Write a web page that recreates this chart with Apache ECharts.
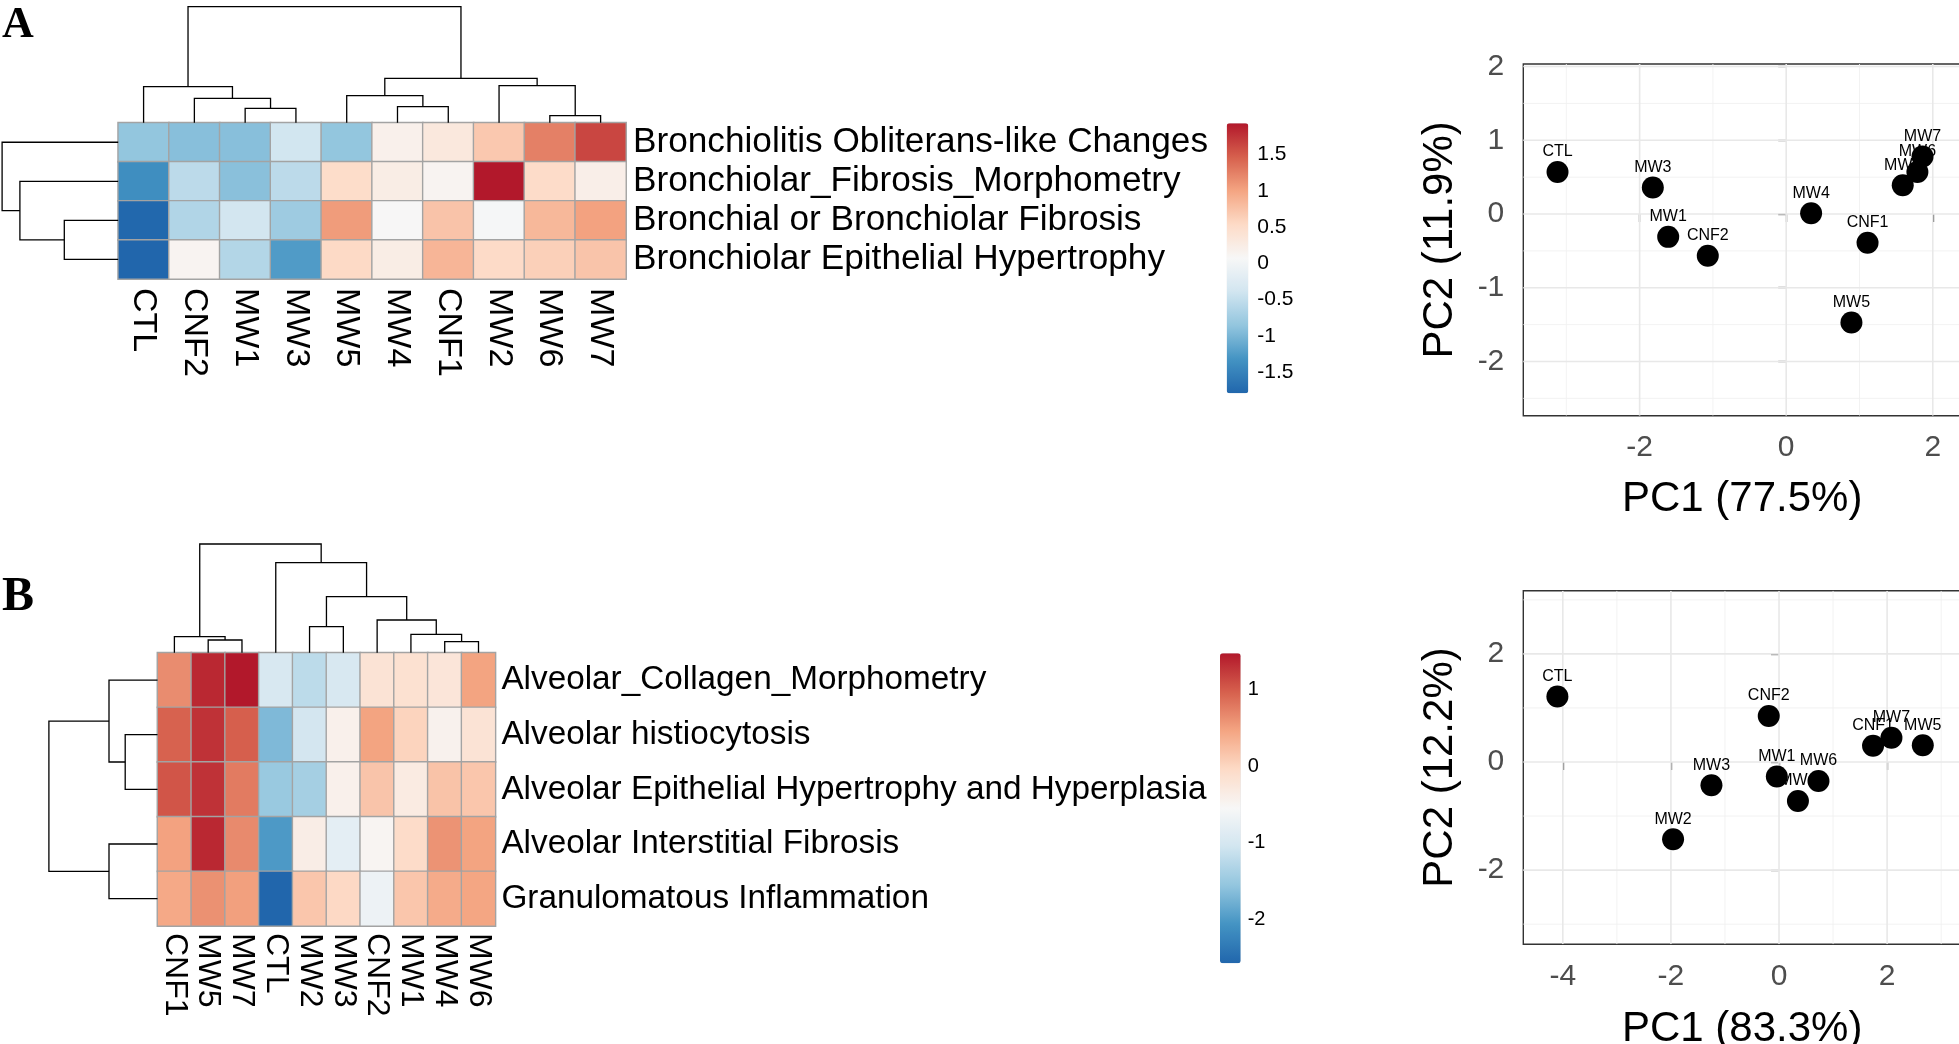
<!DOCTYPE html>
<html><head><meta charset="utf-8">
<script src="https://cdn.jsdelivr.net/npm/echarts@6/dist/echarts.min.js"></script>
<style>html,body{margin:0;padding:0;background:#fff;} #chart{width:1959px;height:1044px;}</style>
</head><body><div id="chart"></div>
<script>
const FONT = '"Liberation Sans", Arial, Helvetica, sans-serif';

// ---------------- Panel A heatmap data ----------------
const colsA = ['CTL','CNF2','MW1','MW3','MW5','MW4','CNF1','MW2','MW6','MW7'];
const rowsA = ['Bronchiolitis Obliterans-like Changes','Bronchiolar_Fibrosis_Morphometry','Bronchial or Bronchiolar Fibrosis','Bronchiolar Epithelial Hypertrophy'];
const a_bronchiolitis = [-0.85,-0.92,-0.92,-0.38,-0.85,0.19,0.32,0.70,1.25,1.63];
const a_fibMorph      = [-1.38,-0.55,-0.91,-0.55,0.51,0.24,0.13,1.93,0.52,0.22];
const a_bronchialFib  = [-1.77,-0.63,-0.37,-0.77,1.06,0.08,0.74,0.04,0.84,1.02];
const a_epiHyper      = [-1.79,0.13,-0.62,-1.25,0.54,0.24,0.86,0.53,0.63,0.73];
// dendrogram merges: [left, right, height]; strings = leaves, numbers = earlier merge (1-based)
const colMergesA = [['MW1','MW3',14.4],['CNF2',1,24.4],['CTL',2,36],['MW6','MW7',7],['MW4','CNF1',16],['MW5',5,27],['MW2',4,37],[6,7,44.4],[3,8,116]];
const rowMergesA = [['Bronchial or Bronchiolar Fibrosis','Bronchiolar Epithelial Hypertrophy',53.9],['Bronchiolar_Fibrosis_Morphometry',1,98.3],['Bronchiolitis Obliterans-like Changes',2,116.1]];
const cbTicksA = [-1.5,-1,-0.5,0,0.5,1,1.5];

// ---------------- Panel B heatmap data ----------------
const colsB = ['CNF1','MW5','MW7','CTL','MW2','MW3','CNF2','MW1','MW4','MW6'];
const rowsB = ['Alveolar_Collagen_Morphometry','Alveolar histiocytosis','Alveolar Epithelial Hypertrophy and Hyperplasia','Alveolar Interstitial Fibrosis','Granulomatous Inflammation'];
const b_collagen     = [0.64,1.36,1.47,-0.96,-1.22,-0.96,-0.19,-0.15,-0.23,0.47];
const b_histio       = [0.95,1.29,0.97,-1.68,-1.02,-0.42,0.47,0.02,-0.44,-0.19];
const b_epithelial   = [1.04,1.29,0.77,-1.50,-1.41,-0.42,0.17,-0.33,0.18,0.15];
const b_interstitial = [0.48,1.36,0.66,-2.00,-0.37,-0.80,-0.50,-0.07,0.59,0.47];
const b_granuloma    = [0.42,0.61,0.50,-2.57,0.15,-0.03,-0.68,0.15,0.40,0.45];
const colMergesB = [['MW5','MW7',12.7],['CNF1',1,16],['MW4','MW6',11],['MW1',3,18.4],['MW2','MW3',26],['CNF2',4,32.7],[5,6,56],['CTL',7,90],[2,8,108.7]];
const rowMergesB = [['Alveolar histiocytosis','Alveolar Epithelial Hypertrophy and Hyperplasia',32.3],['Alveolar_Collagen_Morphometry',1,48.5],['Alveolar Interstitial Fibrosis','Granulomatous Inflammation',48.5],[2,3,108.6]];
const cbTicksB = [-2,-1,0,1];

// ---------------- PCA data ----------------
const pcaA_names = ['CTL','MW3','MW1','CNF2','MW4','CNF1','MW5','MW2','MW6','MW7'];
const pcaA_pc1   = [-3.12,-1.82,-1.61,-1.07,0.34,1.11,0.89,1.59,1.79,1.86];
const pcaA_pc2   = [0.57,0.36,-0.31,-0.565,0.01,-0.39,-1.47,0.39,0.57,0.78];
const pcaA_xTicks = [-2,0,2], pcaA_xMinor = [-3,-1,1];
const pcaA_yTicks = [-2,-1,0,1,2], pcaA_yMinor = [-2.5,-1.5,-0.5,0.5,1.5];

const pcaB_names = ['CTL','CNF2','MW3','MW2','MW1','MW4','MW6','CNF1','MW7','MW5'];
const pcaB_pc1   = [-4.10,-0.19,-1.25,-1.96,-0.04,0.35,0.73,1.74,2.08,2.66];
const pcaB_pc2   = [1.21,0.85,-0.43,-1.43,-0.27,-0.72,-0.35,0.30,0.45,0.31];
const pcaB_xTicks = [-4,-2,0,2], pcaB_xMinor = [-3,-1,1,3];
const pcaB_yTicks = [-2,0,2], pcaB_yMinor = [-3,-1,1,3];

// ---------------- helpers ----------------
const RDBU = ['#2166AC','#4393C3','#92C5DE','#D1E5F0','#F7F7F7','#FDDBC7','#F4A582','#D6604D','#B2182B'];
function heatData(rows){ const d=[]; rows.forEach((row,r)=>row.forEach((v,c)=>d.push([c,r,v]))); return d; }
function dendro(order, merges){
  const pos=[], hgt=[], out=[];
  merges.forEach(m=>{
    const get = ref => typeof ref==='string' ? [order.indexOf(ref)+0.5, 0] : [pos[ref-1], hgt[ref-1]];
    const a=get(m[0]), b=get(m[1]);
    out.push([a[0], b[0], a[1], b[1], m[2]]);
    pos.push((a[0]+b[0])/2); hgt.push(m[2]);
  });
  return out;
}
const rootH = merges => merges[merges.length-1][2];
function dendroSeries(order, merges, xi, horizontal){
  return {type:'custom', coordinateSystem:'cartesian2d', xAxisIndex:xi, yAxisIndex:xi, silent:true, clip:false,
    data: dendro(order, merges),
    renderItem(params, api){
      const xa=api.value(0), xb=api.value(1), ha=api.value(2), hb=api.value(3), ht=api.value(4);
      const raw = horizontal ? [[ha,xa],[ht,xa],[ht,xb],[hb,xb]] : [[xa,ha],[xa,ht],[xb,ht],[xb,hb]];
      return {type:'polyline', shape:{points: raw.map(p=>api.coord(p))}, style:{stroke:'#000', lineWidth:1.3, fill:'none'}};
    }};
}
function gridLineSeries(idx, vals, vertical, color, width){
  return {type:'custom', coordinateSystem:'cartesian2d', xAxisIndex:idx, yAxisIndex:idx, silent:true, z:1, clip:true,
    data: vals.map(v=>[v,v]),
    renderItem(params, api){
      const cs = params.coordSys;
      if (vertical){ const x = api.coord([api.value(0), 0])[0];
        return {type:'line', shape:{x1:x,y1:cs.y,x2:x,y2:cs.y+cs.height}, style:{stroke:color,lineWidth:width}}; }
      const y = api.coord([0, api.value(1)])[1];
      return {type:'line', shape:{x1:cs.x,y1:y,x2:cs.x+cs.width,y2:y}, style:{stroke:color,lineWidth:width}};
    }};
}
const allA = [].concat(a_bronchiolitis,a_fibMorph,a_bronchialFib,a_epiHyper);
const allB = [].concat(b_collagen,b_histio,b_epithelial,b_interstitial,b_granuloma);
const minA=Math.min(...allA), maxA=Math.max(...allA), minB=Math.min(...allB), maxB=Math.max(...allB);

// ---------------- layout (pixels) ----------------
const G = [
  {left:118.2, top:122.7, width:507.8, height:156.3},   // 0 heat A
  {left:118.2, top:6.7,   width:507.8, height:116},     // 1 col dendro A
  {left:2.1,   top:122.7, width:116.1, height:156.3},   // 2 row dendro A
  {left:1226.7,top:123.3, width:21.6,  height:270},     // 3 colorbar A
  {left:157.5, top:652.7, width:337.9, height:273.3},   // 4 heat B
  {left:157.5, top:544,   width:337.9, height:108.7},   // 5 col dendro B
  {left:48.9,  top:652.7, width:108.6, height:273.3},   // 6 row dendro B
  {left:1220,  top:653.3, width:20.7,  height:310},     // 7 colorbar B
  {left:1523.3,top:64,    right:-2,    height:351.7, show:true, borderColor:'#333', borderWidth:1.4, backgroundColor:'#fff'}, // 8 PCA A
  {left:1523.3,top:590.7, right:-2,    height:353.6, show:true, borderColor:'#333', borderWidth:1.4, backgroundColor:'#fff'}  // 9 PCA B
].map(g=>Object.assign({outerBoundsMode:'none', containLabel:false}, g));

const hidden = (i, extra) => Object.assign({type:'value', gridIndex:i, show:false, splitLine:{show:false}}, extra);
const catLabel = (fs, margin, rot) => ({interval:0, rotate:rot||0, margin, fontSize:fs, fontFamily:FONT, color:'#000'});
const pcaAxis = (i, min, max, ticks, name, gap, isY) => ({
  type:'value', gridIndex:i, min, max, name, nameLocation:'middle', nameGap:gap, nameRotate: isY?90:0,
  nameTextStyle:{fontSize:42, fontFamily:FONT, color:'#000'},
  axisLine:{show:false}, splitLine:{show:false},
  axisTick:{show:true, customValues:ticks, length:8, lineStyle:{color:'#333', width:1.3}},
  axisLabel:{customValues:ticks, margin:isY?19:17, fontSize:30, fontFamily:FONT, color:'#4D4D4D'}
});

const xAxis = [
  {type:'category', gridIndex:0, data:colsA, axisLine:{show:false}, axisTick:{show:false}, splitLine:{show:false}, axisLabel:catLabel(34, 9, -90)},
  hidden(1,{min:0,max:colsA.length}),
  hidden(2,{min:0,max:rootH(rowMergesA), inverse:true}),
  hidden(3,{min:0,max:1}),
  {type:'category', gridIndex:4, data:colsB, axisLine:{show:false}, axisTick:{show:false}, splitLine:{show:false}, axisLabel:catLabel(32, 7, -90)},
  hidden(5,{min:0,max:colsB.length}),
  hidden(6,{min:0,max:rootH(rowMergesB), inverse:true}),
  hidden(7,{min:0,max:1}),
  pcaAxis(8, -3.587, 2.385, pcaA_xTicks, 'PC1 (77.5%)', 63, false),
  pcaAxis(9, -4.731, 3.367, pcaB_xTicks, 'PC1 (83.3%)', 64, false)
];
const cbAxis = (i, min, max, ticks, fs, margin) => ({type:'value', gridIndex:i, min, max, position:'right',
  axisLine:{show:false}, axisTick:{show:false}, splitLine:{show:false},
  axisLabel:{customValues:ticks, margin, fontSize:fs, fontFamily:FONT, color:'#000'}});
const yAxis = [
  {type:'category', gridIndex:0, data:rowsA, inverse:true, position:'right', axisLine:{show:false}, axisTick:{show:false}, splitLine:{show:false}, axisLabel:catLabel(35.2, 7)},
  hidden(1,{min:0,max:rootH(colMergesA)}),
  hidden(2,{min:0,max:rowsA.length, inverse:true}),
  cbAxis(3, minA, maxA, cbTicksA, 21, 9),
  {type:'category', gridIndex:4, data:rowsB, inverse:true, position:'right', axisLine:{show:false}, axisTick:{show:false}, splitLine:{show:false}, axisLabel:catLabel(33.3, 6)},
  hidden(5,{min:0,max:rootH(colMergesB)}),
  hidden(6,{min:0,max:rowsB.length, inverse:true}),
  cbAxis(7, minB, maxB, cbTicksB, 20, 7),
  pcaAxis(8, -2.735, 2.034, pcaA_yTicks, 'PC2 (11.9%)', 62, true),
  pcaAxis(9, -3.373, 3.169, pcaB_yTicks, 'PC2 (12.2%)', 62, true)
];

const heatStyle = {borderColor:'#A3A3A3', borderWidth:1.4};
const scatter = (i, xs, ys, names) => ({type:'scatter', xAxisIndex:i, yAxisIndex:i, z:3, symbolSize:22,
  itemStyle:{color:'#000', opacity:1}, silent:true,
  data: xs.map((x,k)=>[x, ys[k], names[k]]),
  label:{show:true, position:'top', distance:1, formatter:p=>p.value[2], fontSize:16, fontFamily:FONT, color:'#000'}});

const option = {
  animation:false,
  textStyle:{fontFamily:FONT},
  title:[
    {text:'A', left:2, top:4, padding:0, textStyle:{fontFamily:'"Liberation Serif", "Times New Roman", serif', fontWeight:'bold', fontSize:44, color:'#000'}},
    {text:'B', left:2, top:574, padding:0, textStyle:{fontFamily:'"Liberation Serif", "Times New Roman", serif', fontWeight:'bold', fontSize:48, color:'#000'}}
  ],
  grid:G, xAxis, yAxis,
  visualMap:[
    {type:'continuous', seriesIndex:0, dimension:2, min:minA, max:maxA, calculable:false, hoverLink:false, padding:0,
     left:1226.7, top:123.3, itemWidth:21.6, itemHeight:270, inRange:{color:RDBU}},
    {type:'continuous', seriesIndex:1, dimension:2, min:minB, max:maxB, calculable:false, hoverLink:false, padding:0,
     left:1220, top:653.3, itemWidth:20.7, itemHeight:310, inRange:{color:RDBU}}
  ],
  series:[
    {type:'heatmap', xAxisIndex:0, yAxisIndex:0, data:heatData([a_bronchiolitis,a_fibMorph,a_bronchialFib,a_epiHyper]), itemStyle:heatStyle, silent:true},
    {type:'heatmap', xAxisIndex:4, yAxisIndex:4, data:heatData([b_collagen,b_histio,b_epithelial,b_interstitial,b_granuloma]), itemStyle:heatStyle, silent:true},
    dendroSeries(colsA, colMergesA, 1, false),
    dendroSeries(rowsA, rowMergesA, 2, true),
    dendroSeries(colsB, colMergesB, 5, false),
    dendroSeries(rowsB, rowMergesB, 6, true),
    gridLineSeries(8, pcaA_xMinor, true, '#F1F1F1', 0.9),
    gridLineSeries(8, pcaA_yMinor, false, '#F1F1F1', 0.9),
    gridLineSeries(8, pcaA_xTicks, true, '#E8E8E8', 1.6),
    gridLineSeries(8, pcaA_yTicks, false, '#E8E8E8', 1.6),
    gridLineSeries(9, pcaB_xMinor, true, '#F1F1F1', 0.9),
    gridLineSeries(9, pcaB_yMinor, false, '#F1F1F1', 0.9),
    gridLineSeries(9, pcaB_xTicks, true, '#E8E8E8', 1.6),
    gridLineSeries(9, pcaB_yTicks, false, '#E8E8E8', 1.6),
    scatter(8, pcaA_pc1, pcaA_pc2, pcaA_names),
    scatter(9, pcaB_pc1, pcaB_pc2, pcaB_names)
  ]
};
const chart = echarts.init(document.getElementById('chart'), null, {renderer:'canvas'});
chart.setOption(option);
</script></body></html>
